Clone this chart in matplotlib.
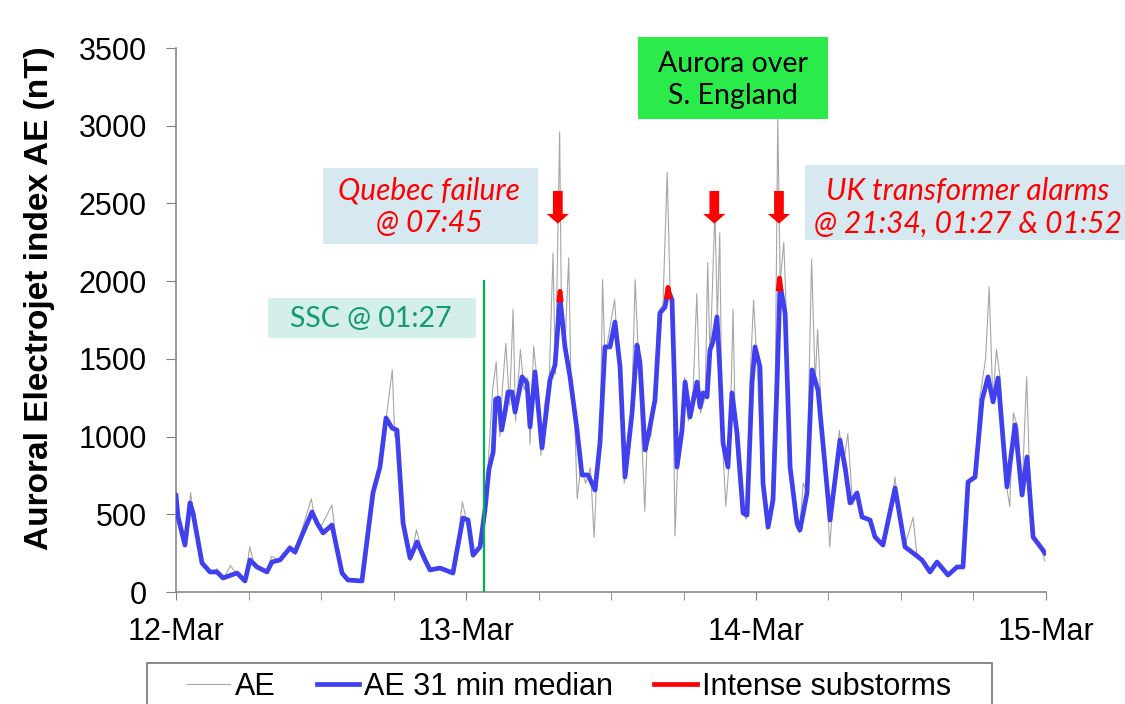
import matplotlib
matplotlib.use("Agg")
import matplotlib.pyplot as plt
from matplotlib.patches import Rectangle

# hours since 12-Mar 00:00 UT
median_h = [0.00, 0.17, 0.74, 1.16, 1.41, 2.15, 2.81, 3.39, 3.89, 5.05, 5.71, 6.12, 6.70,
            7.53, 7.94, 8.61, 9.43, 9.85, 10.51, 11.26, 11.67, 12.17, 12.91, 13.74, 14.23,
            15.39, 16.30, 16.88, 17.38, 17.88, 18.29, 18.79, 19.37, 19.95, 20.61, 21.02,
            21.85, 22.92, 23.26, 23.75, 24.17, 24.58, 25.16, 25.57, 25.90, 26.25, 26.45,
            26.70, 26.95, 27.23, 27.48, 27.81, 28.06, 28.64, 29.05, 29.30, 29.71, 30.29,
            30.95, 31.37, 31.78, 32.19, 32.61, 33.19, 33.60, 34.10, 34.68, 35.09, 35.50,
            35.92, 36.33, 36.75, 37.16, 37.74, 38.15, 38.40, 38.82, 39.06, 39.64, 40.06,
            40.47, 40.72, 41.05, 41.46, 41.88, 42.13, 42.54, 43.12, 43.37, 43.62, 43.95,
            44.19, 44.44, 44.77, 45.02, 45.27, 45.68, 46.01, 46.43, 46.93, 47.26, 47.67,
            47.92, 48.33, 48.58, 49.00, 49.41, 49.74, 49.99, 50.41, 50.82, 51.39, 51.64,
            52.22, 52.64, 53.13, 54.13, 54.95, 55.37, 55.78, 56.36, 56.77, 57.44, 57.85,
            58.51, 59.51, 60.33, 61.00, 61.74, 62.40, 62.98, 63.89, 64.64, 65.13, 65.55,
            66.13, 66.71, 67.20, 67.62, 68.03, 68.77, 69.44, 70.02, 70.43, 70.93, 71.92]
median_v = [620, 483, 302, 573, 508, 187, 129, 129, 90, 122, 71, 206, 161,
            129, 193, 206, 283, 257, 380, 515, 444, 380, 431, 122, 77,
            71, 637, 804, 1120, 1055, 1042, 444, 219, 322, 206, 142,
            154, 122, 270, 476, 463, 238, 290, 528, 790, 900, 1240,
            1248, 1042, 1158, 1287, 1287, 1158, 1384, 1345, 1062, 1416, 927,
            1364, 1461, 1898, 1577, 1384, 1042, 753, 753, 656, 959, 1577,
            1577, 1737, 1448, 740, 1152, 1589, 1474, 914, 997, 1235, 1795,
            1834, 1943, 1879, 804, 1042, 1351, 1126, 1351, 1190, 1281, 1255,
            1557, 1609, 1770, 1409, 959, 804, 1281, 1023, 508, 495, 1345,
            1577, 1448, 701, 418, 592, 1345, 1980, 1795, 804, 444, 399,
            637, 1429, 1300, 463, 978, 804, 573, 637, 483, 463, 354,
            302, 669, 290, 251, 206, 129, 193, 109, 161, 161, 708,
            740, 1235, 1384, 1223, 1377, 676, 1075, 624, 869, 354, 251]

ae_h = [0.0, 0.3, 0.7, 1.0, 1.2, 1.5, 2.0, 2.8, 3.4, 3.9, 4.5, 5.1, 5.7, 6.1, 6.5, 7.5,
        7.9, 8.6, 9.4, 9.9, 10.5, 11.2, 11.5, 12.0, 12.9, 13.3, 13.7, 14.2, 15.4, 16.3,
        16.9, 17.4, 17.9, 18.1, 18.3, 18.8, 19.4, 19.9, 20.6, 21.0, 21.9, 22.9, 23.3,
        23.7, 24.1, 24.6, 25.2, 25.5, 25.8, 26.2, 26.5, 26.8, 27.0, 27.3, 27.6, 27.9,
        28.1, 28.5, 28.8, 29.1, 29.3, 29.6, 29.9, 30.2, 30.5, 30.9, 31.2, 31.4, 31.75,
        31.9, 32.2, 32.5, 32.7, 33.0, 33.2, 33.5, 33.9, 34.3, 34.6, 34.8, 35.1, 35.3,
        35.5, 35.8, 36.3, 36.6, 36.9, 37.1, 37.4, 37.7, 38.0, 38.3, 38.6, 38.8, 39.0,
        39.3, 39.6, 39.9, 40.3, 40.65, 40.9, 41.1, 41.3, 41.5, 41.8, 42.1, 42.4, 42.8,
        43.1, 43.4, 43.8, 44.0, 44.2, 44.6, 44.8, 45.0, 45.2, 45.5, 45.8, 46.1, 46.3,
        46.8, 47.2, 47.5, 47.8, 48.1, 48.5, 48.9, 49.3, 49.6, 49.8, 50.0, 50.3, 50.6,
        50.9, 51.3, 51.6, 51.9, 52.2, 52.6, 52.9, 53.1, 53.5, 53.9, 54.1, 54.5, 54.9,
        55.2, 55.6, 56.0, 56.4, 56.8, 57.4, 57.8, 58.5, 59.1, 59.5, 59.9, 60.3, 61.0,
        61.3, 61.7, 62.4, 63.0, 63.9, 64.6, 65.1, 65.5, 66.1, 66.5, 67.0, 67.3, 67.6,
        67.9, 68.2, 68.7, 69.0, 69.3, 69.7, 70.0, 70.4, 70.6, 70.9, 71.5, 71.9]
ae_v = [650, 470, 300, 420, 640, 480, 200, 120, 150, 80, 170, 110, 60, 290, 170, 120,
        230, 200, 300, 240, 420, 600, 460, 420, 560, 300, 110, 70, 80, 640,
        820, 1120, 1430, 1000, 1050, 420, 200, 400, 190, 130, 160, 110, 320,
        580, 440, 220, 280, 540, 780, 1300, 1480, 1000, 1300, 1600, 1200, 1820,
        1100, 1560, 1300, 1380, 950, 1580, 1350, 880, 1200, 1400, 2180, 1400, 2960,
        1800, 1600, 2150, 1300, 1100, 600, 800, 700, 800, 350, 700, 950, 2010,
        1500, 1650, 1880, 1500, 1100, 700, 1000, 1150, 2010, 1450, 900, 520, 1000,
        1000, 1250, 1800, 1850, 2700, 1900, 1500, 360, 800, 1050, 1380, 1100, 1300,
        1920, 1150, 1260, 2120, 1500, 2460, 1750, 2310, 1000, 550, 850, 1820, 1000,
        520, 470, 1350, 1880, 1450, 700, 400, 620, 1350, 3050, 2000, 2250, 1600,
        800, 420, 380, 700, 650, 2140, 1350, 1690, 1000, 600, 290, 700, 1040,
        800, 1020, 560, 650, 480, 460, 360, 300, 500, 740, 450, 290, 480,
        250, 210, 130, 200, 110, 160, 170, 700, 750, 1240, 1500, 1963, 1230,
        1560, 1380, 700, 550, 1152, 1050, 620, 1384, 860, 360, 300, 200]

# intense substorm caps on the median
storm_h = [[31.70, 31.78, 31.86], [40.60, 40.72, 40.85], [49.85, 49.95, 50.05]]
storm_v = [[1880, 1935, 1880], [1900, 1960, 1900], [1950, 2020, 1950]]
arrow_h = [31.6, 44.55, 49.9]
ssc_h = 25.45

day_labels = ["12-Mar", "13-Mar", "14-Mar", "15-Mar"]

W, H = 1125, 704
BLUE = "#4040ee"


def fx(x):
    return x / W


def fy(y):
    return 1 - y / H


plt.rcParams["font.family"] = ["Liberation Sans", "DejaVu Sans"]
fig = plt.figure(figsize=(W / 100, H / 100), dpi=100)
ax = fig.add_axes([fx(176), fy(592), 870 / W, 544 / H])

l_ae, = ax.plot(ae_h, ae_v, color="#a6a6a6", lw=0.8, label="AE", zorder=2)
l_med, = ax.plot(median_h, median_v, color=BLUE, lw=3.4, label="AE 31 min median",
                 zorder=3, solid_joinstyle="round")
l_storm = None
for sh, sv in zip(storm_h, storm_v):
    l_storm, = ax.plot(sh, sv, color="red", lw=3.4, zorder=4, label="Intense substorms")
ax.plot([ssc_h, ssc_h], [0, 2000], color="#00b050", lw=1.6, zorder=5)

for h in arrow_h:
    ax.annotate("", xy=(h, 2370), xytext=(h, 2580),
                arrowprops=dict(arrowstyle="simple,head_length=0.7,head_width=1.6,tail_width=0.7",
                                fc="red", ec="red", lw=0, shrinkA=0, shrinkB=0,
                                mutation_scale=10), zorder=6)

ax.set_xlim(0, 72)
ax.set_ylim(0, 3500)
ax.set_xticks([0, 24, 48, 72])
ax.set_xticklabels(day_labels)
ax.set_xticks(range(0, 73, 6), minor=True)
ax.set_yticks(range(0, 3501, 500))
for s in ["top", "right"]:
    ax.spines[s].set_visible(False)
for s in ["left", "bottom"]:
    ax.spines[s].set_color("#808080")
    ax.spines[s].set_linewidth(1.1)
ax.tick_params(axis="y", direction="out", length=7, color="#808080", labelsize=22, pad=14)
ax.tick_params(axis="x", which="both", direction="out", length=6, color="#808080",
               labelsize=22, pad=12)
ax.set_ylabel("Auroral Electrojet index AE (nT)", fontsize=24, fontweight="bold")
ax.yaxis.set_label_coords(-0.139, 0.54)

# annotation boxes (pixel layout)
ann_font = ["Lato", "DejaVu Sans"]
boxes = [
    (323, 168, 538, 244, "#d6e9f1"),
    (268, 298, 476, 338, "#d4efe9"),
    (638, 37, 828, 119, "#2aeb4a"),
    (805, 165, 1125, 240, "#d6e9f1"),
]
for x0, y0, x1, y1, c in boxes:
    fig.add_artist(Rectangle((fx(x0), fy(y1)), (x1 - x0) / W, (y1 - y0) / H,
                             transform=fig.transFigure, fc=c, ec="none", zorder=7))

fig.text(fx(429), fy(207), "Quebec failure\n@ 07:45", color="red", style="italic",
         fontsize=21.5, family=ann_font, ha="center", va="center", linespacing=1.2, zorder=8)
fig.text(fx(371), fy(319), "SSC @ 01:27", color="#139b6e", fontsize=20.5,
         family=ann_font, ha="center", va="center", zorder=8)
fig.text(fx(733), fy(80), "Aurora over\nS. England", color="black", fontsize=20.5,
         family=ann_font, ha="center", va="center", linespacing=1.25, zorder=8)
fig.text(fx(968), fy(207), "UK transformer alarms\n@ 21:34, 01:27 & 01:52", color="red",
         style="italic", fontsize=21.5, family=ann_font, ha="center", va="center",
         linespacing=1.2, zorder=8)

# legend (frame drawn separately, runs off the bottom edge)
fig.add_artist(Rectangle((fx(147), fy(715)), (992 - 147) / W, (715 - 663) / H,
                         transform=fig.transFigure, fc="white", ec="#808080", lw=1.3,
                         zorder=7))
leg = fig.legend(handles=[l_ae, l_med, l_storm], loc="upper left",
                 bbox_to_anchor=(fx(178), fy(663)), ncol=3, frameon=False, fontsize=22,
                 borderpad=0.3, handlelength=1.4, handletextpad=0.15, columnspacing=1.35,
                 borderaxespad=0)
leg.set_zorder(9)

fig.savefig("out.png", dpi=100)
